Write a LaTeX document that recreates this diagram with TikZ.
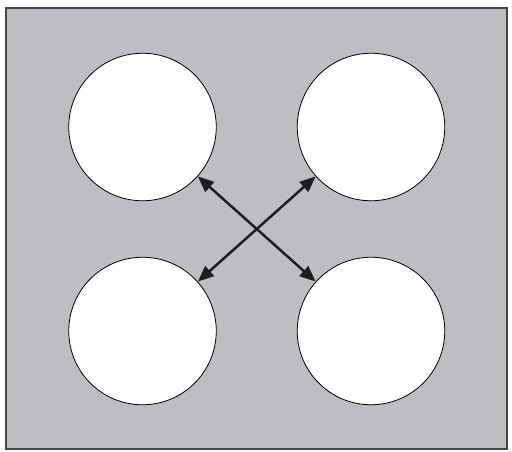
\documentclass[tikz,border=0pt]{standalone}
\usetikzlibrary{arrows.meta}
\definecolor{panel}{HTML}{BDBEC2}
\definecolor{rim}{HTML}{444444}
\definecolor{ink}{HTML}{1E1E1E}
\begin{document}
\begin{tikzpicture}[x=1pt,y=-1pt,
  hole/.style={circle,draw=black,line width=0.8pt,fill=white,minimum size=147.5pt,inner sep=0pt},
  link/.style={line width=2.5pt,draw=ink,{Triangle[length=16pt,width=13pt]}-{Triangle[length=16pt,width=13pt]}}]
\useasboundingbox (0,0) rectangle (512,451);
\node[draw=rim,line width=1.5pt,fill=panel,minimum width=501pt,minimum height=441pt,inner sep=0pt] (plate) at (256.5,228.5) {};
\node[hole] (tl) at (142.5,127) {};
\node[hole] (tr) at (371,127) {};
\node[hole] (bl) at (142.5,331) {};
\node[hole] (br) at (371,331) {};
\draw[link] (tl) -- (br);
\draw[link] (tr) -- (bl);
\end{tikzpicture}
\end{document}
